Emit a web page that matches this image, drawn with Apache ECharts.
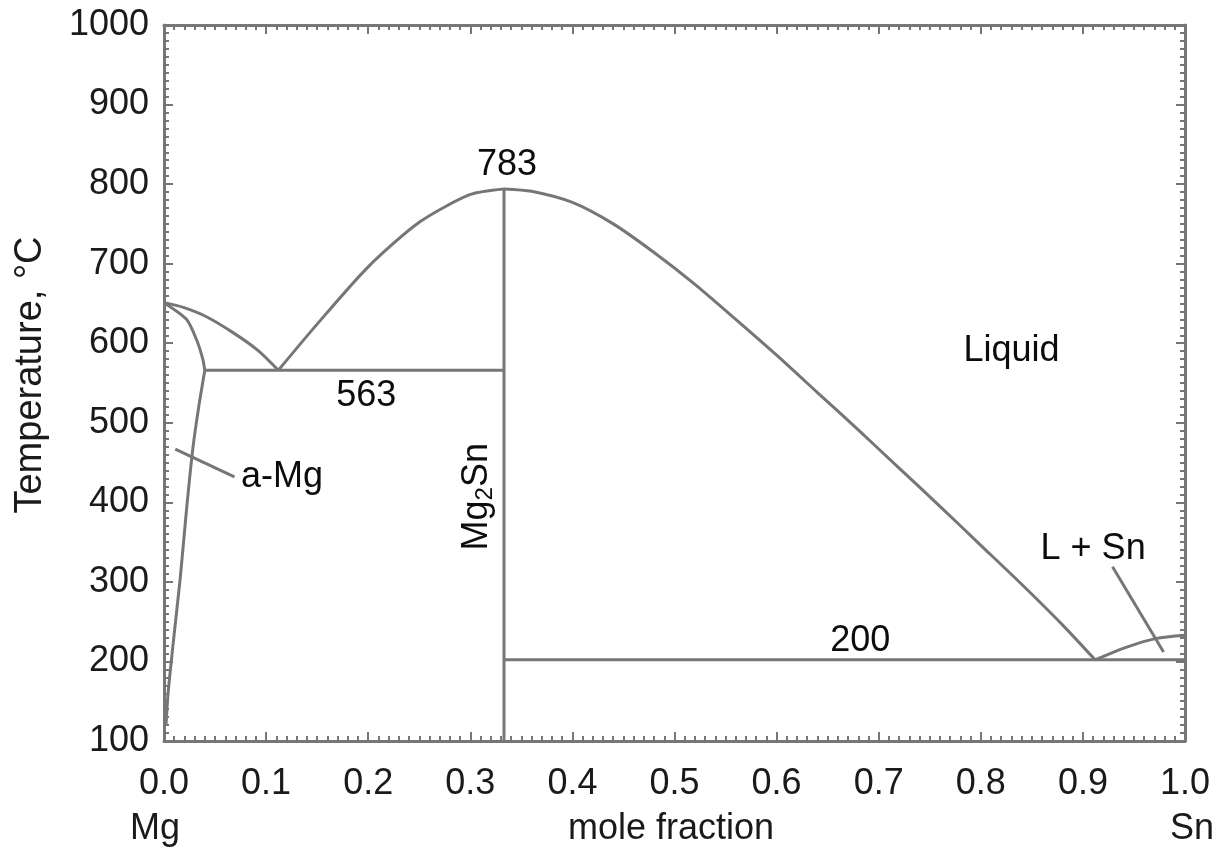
<!DOCTYPE html>
<html>
<head>
<meta charset="utf-8">
<script src="https://cdn.jsdelivr.net/npm/echarts@6/dist/echarts.min.js"></script>
<style>html,body{margin:0;padding:0;background:#fff}#c{width:1222px;height:847px}</style>
</head>
<body>
<div id="c"></div>
<script>
// ---- data (mole fraction Sn, temperature °C) ----
const xTicks = [0.0,0.1,0.2,0.3,0.4,0.5,0.6,0.7,0.8,0.9,1.0];
const yTicks = [100,200,300,400,500,600,700,800,900,1000];
const liquidusMg = [[0.0,651],[0.019,645],[0.042,633],[0.068,613],[0.092,591],[0.112,566]];
const solidusMg = [[0.0,651],[0.022,630],[0.032,604],[0.038,580],[0.040,566]];
const solvusMg = [[0.040,566],[0.034,520],[0.028,465],[0.022,390],[0.016,306],[0.009,223],[0.004,160],[0.002,120]];
const liquidusMg2SnLeft = [[0.112,566],[0.15,624],[0.20,696],[0.25,752],[0.30,787],[0.333,794]];
const liquidusMg2SnRight = [[0.333,794],[0.36,791],[0.40,777],[0.44,750],[0.48,714],[0.52,674],[0.56,630],[0.60,585],[0.64,538],[0.68,491],[0.72,443],[0.76,395],[0.80,346],[0.84,297],[0.88,246],[0.912,202]];
const liquidusSn = [[0.912,202],[0.943,218],[0.972,229],[1.0,233]];
const eutectic563 = [[0.040,566],[0.333,566]];
const eutectic200 = [[0.333,202],[1.0,202]];
const compoundMg2Sn = [[0.333,100],[0.333,794]];
const pointerAlphaMg = [[0.011,467],[0.069,432]];
const pointerLSn = [[0.929,319],[0.979,212]];
const annotations = [
  {text:'783', at:[0.336,824]},
  {text:'563', at:[0.198,534]},
  {text:'200', at:[0.682,225]},
  {text:'Liquid', at:[0.830,590]},
  {text:'L + Sn', at:[0.910,341]}
];
const alphaMgLabel = {text:'a-Mg', at:[0.075,432]};
const mg2snLabel = {at:[0.307,407]};

// ---- styles ----
const lineColor = '#767676';
const textColor = '#1a1a1a';
const annColor = '#0c0c0c';
const FONT = '"Liberation Sans", Arial, Helvetica, sans-serif';
const FS = 36;

function curve(data, smooth) {
  return {type:'line', data:data, symbol:'none', smooth: smooth ? 0.25 : false,
    lineStyle:{color:lineColor, width:3}, silent:true, z:3};
}
function textLayer(data, label) {
  return {type:'scatter', symbol:'circle', symbolSize:1, itemStyle:{color:'rgba(0,0,0,0)'},
    silent:true, z:5, data:data, label:Object.assign({opacity:1, textBorderWidth:0}, label)};
}

const chart = echarts.init(document.getElementById('c'), null, {renderer:'canvas'});

const axisCommon = {
  axisLine:{show:true, onZero:false, lineStyle:{color:lineColor, width:3}},
  axisTick:{show:true, inside:true, length:9, lineStyle:{color:lineColor, width:2}},
  minorTick:{show:true, splitNumber:10, length:5, lineStyle:{color:lineColor, width:2}},
  splitLine:{show:false}, minorSplitLine:{show:false}
};

const option = {
  animation:false,
  backgroundColor:'#fff',
  grid:{left:164, right:37, top:25, bottom:106, containLabel:false},
  xAxis:[
    Object.assign({type:'value', position:'bottom', min:xTicks[0], max:xTicks[xTicks.length-1], interval:0.1,
      axisLabel:{show:true, margin:25, color:textColor, fontSize:FS, fontFamily:FONT, formatter:v=>v.toFixed(1)}}, axisCommon),
    Object.assign({type:'value', position:'top', min:xTicks[0], max:xTicks[xTicks.length-1], interval:0.1,
      axisLabel:{show:false}}, axisCommon)
  ],
  yAxis:[
    Object.assign({type:'value', position:'left', min:yTicks[0], max:yTicks[yTicks.length-1], interval:100,
      axisLabel:{show:true, margin:15, color:textColor, fontSize:FS, fontFamily:FONT, formatter:v=>String(v)}}, axisCommon),
    Object.assign({type:'value', position:'right', min:yTicks[0], max:yTicks[yTicks.length-1], interval:100,
      axisLabel:{show:false}}, axisCommon)
  ],
  graphic:[
    {type:'text', x:31, y:375, rotation:Math.PI/2, style:{text:'Temperature, °C', fill:textColor, font:'38px '+FONT, textAlign:'center', textVerticalAlign:'middle'}},
    {type:'text', x:155, y:829, style:{text:'Mg', fill:textColor, font:FS+'px '+FONT, textAlign:'center', textVerticalAlign:'middle'}},
    {type:'text', x:671, y:829, style:{text:'mole fraction', fill:textColor, font:FS+'px '+FONT, textAlign:'center', textVerticalAlign:'middle'}},
    {type:'text', x:1192, y:829, style:{text:'Sn', fill:textColor, font:FS+'px '+FONT, textAlign:'center', textVerticalAlign:'middle'}}
  ],
  series:[
    curve(liquidusMg, true),
    curve(solidusMg, true),
    curve(solvusMg, true),
    curve(liquidusMg2SnLeft, true),
    curve(liquidusMg2SnRight, true),
    curve(liquidusSn, true),
    curve(eutectic563, false),
    curve(eutectic200, false),
    curve(compoundMg2Sn, false),
    curve(pointerAlphaMg, false),
    curve(pointerLSn, false),
    textLayer(annotations.map(a=>({value:a.at, name:a.text})),
      {show:true, position:'inside', formatter:p=>p.name, color:annColor, fontSize:FS, fontFamily:FONT}),
    textLayer([{value:alphaMgLabel.at, name:alphaMgLabel.text}],
      {show:true, position:'right', distance:0, formatter:p=>p.name, color:annColor, fontSize:FS, fontFamily:FONT}),
    textLayer([{value:mg2snLabel.at, name:'Mg2Sn'}],
      {show:true, position:'inside', rotate:90, formatter:'{a|Mg}{s|2}{a|Sn}',
        rich:{a:{color:annColor, fontSize:FS, fontFamily:FONT}, s:{color:annColor, fontSize:24, fontFamily:FONT, padding:[16,0,0,0]}}})
  ]
};
chart.setOption(option);
</script>
</body>
</html>
